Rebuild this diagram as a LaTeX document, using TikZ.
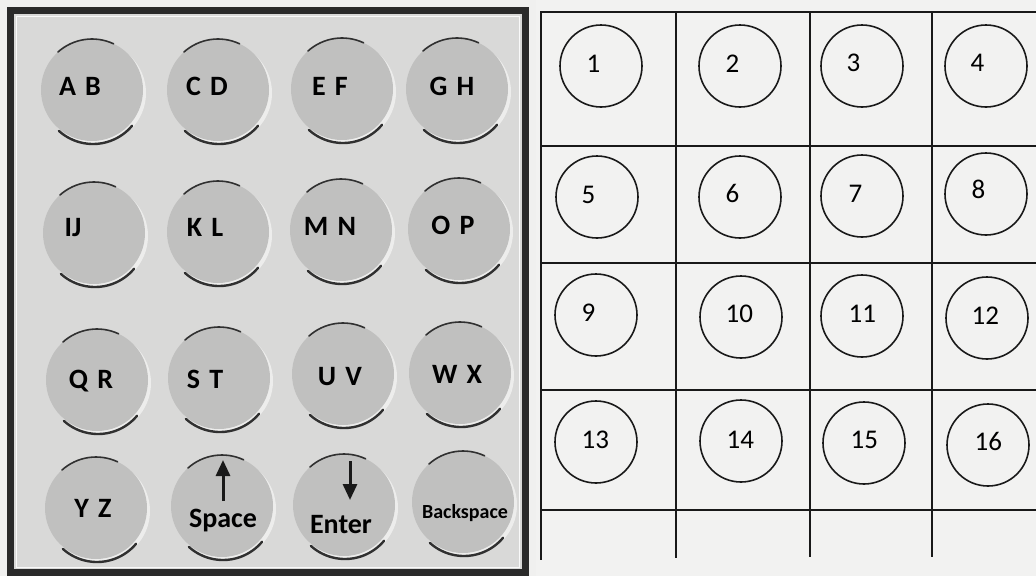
\documentclass[tikz,border=0pt]{standalone}
\usepackage{fontspec}
\setmainfont{Carlito}
\newfontfamily\keyfont[WordSpace=1.45]{Carlito}
\usetikzlibrary{arrows.meta}
\definecolor{pagebg}{HTML}{F0F0EF}
\definecolor{panelbg}{HTML}{D9D9D8}
\definecolor{framec}{HTML}{2A2A2A}
\definecolor{keyc}{HTML}{C0C0BF}
\definecolor{keyhi}{HTML}{EDEDEC}
\definecolor{rimc}{HTML}{303030}
\definecolor{gridbg}{HTML}{F2F2F1}
\tikzset{
  keybody/.style={circle, fill=keyc, minimum size=102pt, inner sep=0pt},
  keyrim/.style={draw=rimc, line width=2.4pt, line cap=round},
  keytop/.style={draw=rimc, line width=1.6pt, line cap=round},
  keytext/.style={font=\keyfont\bfseries\fontsize{28}{28}\selectfont, inner sep=0pt, anchor=base, text=black},
  smalltext/.style={font=\keyfont\bfseries\fontsize{20}{20}\selectfont, inner sep=0pt, anchor=base, text=black},
  keyarrow/.style={line width=3pt, draw=black!90, -{Triangle[width=14pt,length=16pt]}},
  gridline/.style={line width=2pt, draw=black!90},
  numcircle/.style={circle, draw=black!90, line width=1.6pt, minimum size=82pt, inner sep=0pt},
  numtext/.style={font=\fontsize{27}{27}\selectfont, inner sep=0pt, anchor=base west, text=black}
}
\newcommand{\coinkey}[3]{%
  \fill[keyhi] (#2+3,#3+3) circle[radius=51];
  \node[keybody] (#1) at (#2,#3) {};
  \draw[keyrim] ([shift={(40:51)}]#1.center) ++(1,3) arc[start angle=40, end angle=132, radius=51];
  \draw[keytop] ([shift={(228:51)}]#1.center) arc[start angle=228, end angle=295, radius=51];
}
\newcommand{\numcell}[6]{% name, cx, cy, text, left, base
  \node[numcircle] (c#1) at (#2,#3) {};
  \node[numtext] (n#1) at (#5-1.5,#6) {#4};
}
\begin{document}
\begin{tikzpicture}[x=1pt,y=-1pt]
\useasboundingbox (0,0) rectangle (1036,576);
\fill[pagebg] (0,0) rectangle (1036,576);
\fill[gridbg] (536,0) rectangle (1036,576);
% left panel
\filldraw[fill=panelbg, draw=framec, line width=7pt] (10,10.5) rectangle (525,572.5);
\draw[white!85!panelbg, line width=1pt] (16,16) rectangle (519.5,567);
% keys row 1
\coinkey{kAB}{92}{90}
\coinkey{kCD}{218}{90}
\coinkey{kEF}{342}{89}
\coinkey{kGH}{457}{89}
% row 2
\coinkey{kIJ}{94}{233}
\coinkey{kKL}{218}{232}
\coinkey{kMN}{341}{230}
\coinkey{kOP}{459}{229}
% row 3
\coinkey{kQR}{97}{380}
\coinkey{kST}{219}{378}
\coinkey{kUV}{343}{374}
\coinkey{kWX}{460}{373}
% row 4
\coinkey{kYZ}{96}{508}
\coinkey{kSp}{222}{506}
\coinkey{kEn}{344}{505}
\coinkey{kBs}{463}{502}
% key labels
\node[keytext] (lAB) at (80,95) {A B};
\node[keytext] (lCD) at (207,95) {C D};
\node[keytext] (lEF) at (330,95) {E F};
\node[keytext] (lGH) at (452,95) {G H};
\node[keytext] (lIJ) at (73,236) {IJ};
\node[keytext] (lKL) at (205,236) {K L};
\node[keytext] (lMN) at (330,235) {M N};
\node[keytext] (lOP) at (453,234) {O P};
\node[keytext] (lQR) at (91,388) {Q R};
\node[keytext] (lST) at (205,388) {S T};
\node[keytext] (lUV) at (340,385) {U V};
\node[keytext] (lWX) at (457,383) {W X};
\node[keytext] (lYZ) at (93,517) {Y Z};
\node[keytext] (lSp) at (223,527) {Space};
\node[keytext] (lEn) at (341,533) {Enter};
\node[smalltext] (lBs) at (465,518) {Backspace};
\coordinate (spB) at (223,501);
\coordinate (spT) at (223,460);
\draw[keyarrow] (spB) -- (spT);
\coordinate (enT) at (350,461);
\coordinate (enB) at (350,500);
\draw[keyarrow] (enT) -- (enB);
% right grid
\draw[gridline] (541,12) -- (541,560);
\draw[gridline] (676,12) -- (676,558);
\draw[gridline] (810,12) -- (810,557);
\draw[gridline] (932,12) -- (932,557);
\draw[gridline] (540,12) -- (1036,12);
\draw[gridline] (541,146) -- (1036,146);
\draw[gridline] (541,263) -- (1036,263);
\draw[gridline] (541,390) -- (1036,390);
\draw[gridline] (541,510) -- (1036,510);
% numbered circles
\numcell{1}{601}{66}{1}{588}{72}
\numcell{2}{740}{66}{2}{727}{72}
\numcell{3}{862}{66}{3}{848}{71}
\numcell{4}{986}{66}{4}{972}{71}
\numcell{5}{597}{197}{5}{583}{203}
\numcell{6}{740}{197}{6}{727}{202}
\numcell{7}{862}{196}{7}{850}{202}
\numcell{8}{986}{194}{8}{973}{198}
\numcell{9}{596}{315}{9}{583}{321}
\numcell{10}{741}{317}{10}{727}{322}
\numcell{11}{862}{316}{11}{850}{322}
\numcell{12}{987}{318}{12}{973}{324}
\numcell{13}{596}{442}{13}{583}{448}
\numcell{14}{741}{441}{14}{728}{448}
\numcell{15}{864}{443}{15}{852}{448}
\numcell{16}{988}{445}{16}{976}{450}
\end{tikzpicture}
\end{document}
